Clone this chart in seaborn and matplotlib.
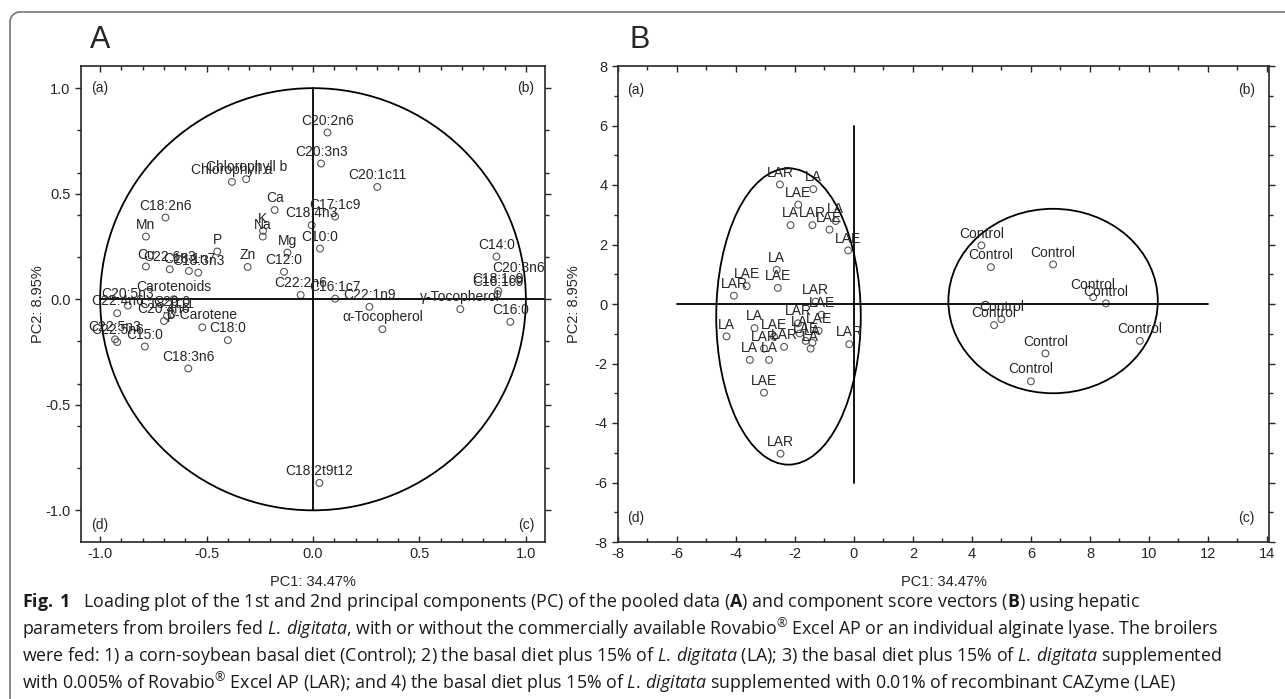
import numpy as np
import pandas as pd
import matplotlib
matplotlib.use('Agg')
import matplotlib.pyplot as plt
import seaborn as sns
from matplotlib.patches import Ellipse, Arc
from matplotlib.lines import Line2D
from matplotlib.ticker import MultipleLocator, FormatStrFormatter
from matplotlib.transforms import IdentityTransform

sns.set_style('ticks')
plt.rcParams['font.family'] = ['Liberation Sans', 'DejaVu Sans']
plt.rcParams['axes.unicode_minus'] = False
plt.rcParams['mathtext.fontset'] = 'custom'
plt.rcParams['mathtext.rm'] = 'Open Sans'
plt.rcParams['mathtext.it'] = 'Open Sans:italic'
plt.rcParams['mathtext.bf'] = 'Open Sans:bold'

# ---------------- Panel A: loadings ----------------
load_names = ['C20:2n6', 'C20:3n3', 'C20:1c11', 'Chlorophyll b', 'Chlorophyll a', 'Ca',
              'C17:1c9', 'C18:4n3', 'K', 'Na', 'C10:0', 'Mg', 'P', 'C12:0', 'Zn',
              'C22:2n6', 'C16:1c7', 'C22:1n9', 'C18:2n6', 'Mn', 'Cu', 'C22:6n3',
              'C18:1n7', 'C18:3n3', 'C20:5n3', 'Carotenoids', 'C22:4n6', 'C20:0',
              'C18:1t11', 'C20:4n6', 'β-Carotene', 'C22:5n3', 'C22:5n6', 'C15:0',
              'C18:0', 'C18:3n6', 'C14:0', 'C20:3n6', 'C18:1c9', 'C16:1c9',
              'γ-Tocopherol', 'C16:0', 'α-Tocopherol', 'C18:2t9t12']
load_pc1 = [0.068, 0.038, 0.302, -0.314, -0.381, -0.18,
            0.104, -0.006, -0.235, -0.236, 0.033, -0.12, -0.45, -0.136, -0.307,
            -0.058, 0.104, 0.265, -0.693, -0.785, -0.785, -0.673,
            -0.583, -0.539, -0.87, -0.654, -0.92, -0.665,
            -0.686, -0.70, -0.52, -0.93, -0.92, -0.79,
            -0.40, -0.586, 0.862, 0.966, 0.87, 0.867,
            0.692, 0.927, 0.326, 0.03]
load_pc2 = [0.79, 0.643, 0.532, 0.569, 0.556, 0.423,
            0.392, 0.351, 0.324, 0.297, 0.24, 0.221, 0.226, 0.13, 0.153,
            0.02, 0.003, -0.036, 0.387, 0.297, 0.155, 0.142,
            0.134, 0.126, -0.03, 0.0, -0.066, -0.071,
            -0.079, -0.103, -0.133, -0.19, -0.203, -0.224,
            -0.194, -0.328, 0.202, 0.092, 0.04, 0.024,
            -0.047, -0.107, -0.142, -0.87]

# ---------------- Panel B: scores ----------------
score_group = ['LAR', 'LA', 'LAE', 'LA', 'LA', 'LAR', 'LAE', 'LAE', 'LA', 'LAE',
               'LAE', 'LAR', 'LAR', 'LAE', 'LA', 'LA', 'LAR', 'LA', 'LAE', 'LAR',
               'LAR', 'LA', 'LA', 'LAE', 'LA', 'LA', 'LAR', 'LAE', 'LAR', 'LAE',
               'Control', 'Control', 'Control', 'Control', 'Control',
               'Control', 'Control', 'Control', 'Control', 'Control']
score_pc1 = [-2.51, -1.38, -1.89, -0.62, -2.15, -1.41, -0.83, -0.20, -2.62, -2.58,
             -3.64, -4.07, -1.30, -1.10, -3.37, -4.32, -1.90, -1.84, -2.71, -3.05,
             -2.37, -3.53, -2.88, -1.64, -1.41, -1.47, -0.16, -3.05, -2.49, -1.20,
             4.32, 4.64, 6.75, 8.11, 8.54, 5.00, 4.75, 9.69, 6.49, 6.00]
score_pc2 = [4.02, 3.86, 3.34, 2.79, 2.65, 2.65, 2.50, 1.80, 1.15, 0.54,
             0.60, 0.28, 0.08, -0.36, -0.81, -1.09, -0.65, -0.99, -1.10, -1.50,
             -1.44, -1.88, -1.88, -1.24, -1.30, -1.50, -1.35, -2.98, -5.03, -0.90,
             1.97, 1.24, 1.33, 0.23, 0.02, -0.51, -0.71, -1.24, -1.66, -2.60]

# confidence ellipses: centre x, centre y, full width, full height
ell_cx = [-2.22, 6.75]
ell_cy = [-0.42, 0.10]
ell_w = [4.9, 7.1]
ell_h = [9.96, 6.2]

W, H = 1285, 699
fig = plt.figure(figsize=(W / 100, H / 100), dpi=100)


def frac(x0, y0, x1, y1):
    return [x0 / W, 1 - y1 / H, (x1 - x0) / W, (y1 - y0) / H]


axA = fig.add_axes(frac(81, 66, 545, 542))
axB = fig.add_axes(frac(618, 66, 1269, 542))

mk = dict(marker='o', s=24, facecolor='none', edgecolor='#555555', linewidth=0.8, legend=False)

# ---- panel A
dfA = pd.DataFrame({'name': load_names, 'pc1': load_pc1, 'pc2': load_pc2})
axA.add_patch(Ellipse((0, 0), 2, 2, fill=False, color='black', lw=1.3))
axA.plot([-1.0, 1.09], [0, 0], color='black', lw=1.3)
axA.plot([0, 0], [-1.0, 1.0], color='black', lw=1.3)
sns.scatterplot(data=dfA, x='pc1', y='pc2', ax=axA, **mk)
for n, x, y in zip(load_names, load_pc1, load_pc2):
    axA.annotate(n, (x, y), xytext=(0, 3.5), textcoords='offset points',
                 ha='center', va='bottom', fontsize=10)
axA.set_xlim(-1.09, 1.09)
axA.set_ylim(-1.15, 1.105)
axA.xaxis.set_major_locator(MultipleLocator(0.5))
axA.yaxis.set_major_locator(MultipleLocator(0.5))
axA.xaxis.set_minor_locator(MultipleLocator(0.1))
axA.yaxis.set_minor_locator(MultipleLocator(0.2))
axA.xaxis.set_major_formatter(FormatStrFormatter('%.1f'))
axA.yaxis.set_major_formatter(FormatStrFormatter('%.1f'))
for t, (x, y) in zip(['(a)', '(b)', '(c)', '(d)'], [(-1, 1.0), (1, 1.0), (1, -1.07), (-1, -1.07)]):
    axA.text(x, y, t, ha='center', va='center', fontsize=10)

# ---- panel B
dfB = pd.DataFrame({'group': score_group, 'pc1': score_pc1, 'pc2': score_pc2})
for cx, cy, w, h in zip(ell_cx, ell_cy, ell_w, ell_h):
    axB.add_patch(Ellipse((cx, cy), w, h, fill=False, color='black', lw=1.3))
axB.plot([-6, 12], [0, 0], color='black', lw=1.3)
axB.plot([0, 0], [-6, 6], color='black', lw=1.3)
sns.scatterplot(data=dfB, x='pc1', y='pc2', ax=axB, **mk)
for n, x, y in zip(score_group, score_pc1, score_pc2):
    axB.annotate(n, (x, y), xytext=(0, 3.5), textcoords='offset points',
                 ha='center', va='bottom', fontsize=10)
axB.set_xlim(-8, 14.07)
axB.set_ylim(-8, 8)
axB.xaxis.set_major_locator(MultipleLocator(2))
axB.yaxis.set_major_locator(MultipleLocator(2))
axB.xaxis.set_minor_locator(MultipleLocator(1))
axB.yaxis.set_minor_locator(MultipleLocator(1))
for t, (x, y) in zip(['(a)', '(b)', '(c)', '(d)'], [(-7.4, 7.2), (13.3, 7.2), (13.3, -7.2), (-7.4, -7.2)]):
    axB.text(x, y, t, ha='center', va='center', fontsize=10)

for ax, pad in ((axA, 0), (axB, 10)):
    ax.set_xlabel('PC1: 34.47%', fontsize=10.5, labelpad=10)
    ax.set_ylabel('PC2: 8.95%', fontsize=10.5, labelpad=pad)
    for s in ax.spines.values():
        s.set_linewidth(1.2)
        s.set_visible(True)
    ax.tick_params(which='both', top=True, right=True, direction='in', width=1, labelsize=10.5)
    ax.tick_params(axis='y', which='both', left=True, direction='out')
    ax.tick_params(which='major', length=4)
    ax.tick_params(which='minor', length=3)

# panel letters
fig.text(90 / W, 1 - 40 / H, 'A', fontsize=22, va='center', ha='left',
         family=['Liberation Sans Narrow', 'Liberation Sans'])
fig.text(629 / W, 1 - 40 / H, 'B', fontsize=22, va='center', ha='left',
         family=['Liberation Sans Narrow', 'Liberation Sans'])

# caption
cap = [r"$\mathbf{Fig.\;1}$   Loading plot of the 1st and 2nd principal components (PC) of the pooled data ($\mathbf{A}$) and component score vectors ($\mathbf{B}$) using hepatic",
       r"parameters from broilers fed $\mathit{L.\,digitata}$, with or without the commercially available Rovabio$^{®}$ Excel AP or an individual alginate lyase. The broilers",
       r"were fed: 1) a corn-soybean basal diet (Control); 2) the basal diet plus 15% of $\mathit{L.\,digitata}$ (LA); 3) the basal diet plus 15% of $\mathit{L.\,digitata}$ supplemented",
       r"with 0.005% of Rovabio$^{®}$ Excel AP (LAR); and 4) the basal diet plus 15% of $\mathit{L.\,digitata}$ supplemented with 0.01% of recombinant CAZyme (LAE)"]
for i, line in enumerate(cap):
    fig.text(22 / W, 1 - (602 + 27 * i) / H, line, fontsize=12.8, va='center', ha='left',
             family=['Open Sans', 'DejaVu Sans'], color='#1a1a1a')

# outer frame (top and left, rounded corner)
r = 10
fig.add_artist(Line2D([10 + r, W], [H - 12, H - 12], transform=IdentityTransform(), color='#777777', lw=1.2))
fig.add_artist(Line2D([10, 10], [0, H - 12 - r], transform=IdentityTransform(), color='#777777', lw=1.2))
fig.add_artist(Arc((10 + r, H - 12 - r), 2 * r, 2 * r, theta1=90, theta2=180,
                   transform=IdentityTransform(), color='#777777', lw=1.2))

fig.savefig('out.png', dpi=100)
